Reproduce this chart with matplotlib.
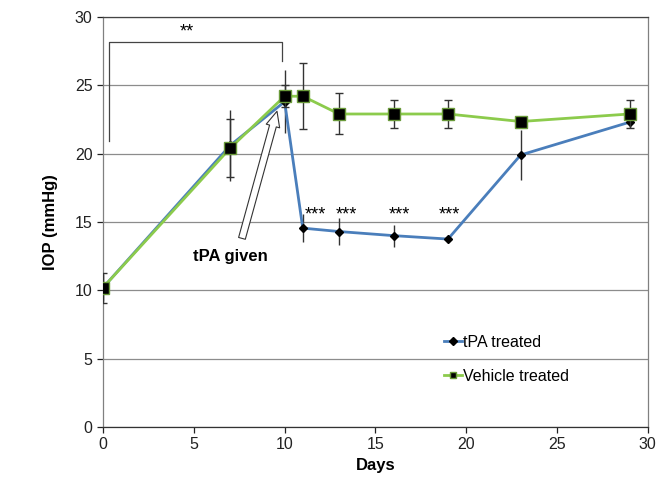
import matplotlib
matplotlib.use("Agg")
import matplotlib.pyplot as plt
from matplotlib.lines import Line2D

plt.rcParams['font.family'] = ['Liberation Sans', 'DejaVu Sans']

# data
days_tpa = [0, 7, 10, 11, 13, 16, 19, 23, 29]
iop_tpa = [10.2, 20.6, 23.8, 14.55, 14.3, 14.0, 13.75, 19.9, 22.3]
err_tpa = [1.0, 2.6, 2.3, 1.0, 1.0, 0.8, 0.1, 1.8, 0.4]

days_veh = [0, 7, 10, 11, 13, 16, 19, 23, 29]
iop_veh = [10.2, 20.4, 24.2, 24.2, 22.9, 22.9, 22.9, 22.35, 22.9]
err_veh = [1.1, 2.1, 0.8, 2.4, 1.5, 1.0, 1.0, 0.1, 1.0]

star_days = [11.7, 13.4, 16.3, 19.1]
star_y = 15.5

fig = plt.figure(figsize=(6.65, 4.79), dpi=100)
ax = fig.add_axes([0.155, 0.1086, 0.819, 0.856])

blue = "#4A7EBB"
green = "#8CCB4C"

ax.errorbar(days_tpa, iop_tpa, yerr=err_tpa, color=blue, lw=2, marker="D",
            ms=4.5, mfc="black", mec="black", ecolor="#333333", elinewidth=1,
            capsize=0, zorder=3)
ax.errorbar(days_veh, iop_veh, yerr=err_veh, color=green, lw=2, marker="s",
            ms=8, mfc="black", mec="#6a9a3a", ecolor="#333333", elinewidth=1,
            capsize=3, zorder=4)

for d in star_days:
    ax.text(d, star_y, "***", ha="center", va="center", fontsize=13)

# significance bracket
ax.plot([0.33, 0.33, 9.85, 9.85], [20.9, 28.2, 28.2, 26.8], color="#444444", lw=0.9)
ax.text(4.6, 28.9, "**", ha="center", va="center", fontsize=13)

ax.annotate("", xy=(9.58, 23.1), xytext=(7.65, 13.8),
            arrowprops=dict(arrowstyle="simple,head_length=1.1,head_width=1.0,tail_width=0.5",
                            mutation_scale=10, fc="white", ec="#333333", lw=0.8,
                            shrinkA=0, shrinkB=0))
ax.text(7.0, 12.5, "tPA given", ha="center", va="center", fontsize=12,
        fontweight="bold")

ax.set_xlim(0, 30)
ax.set_ylim(0, 30)
ax.set_xticks(range(0, 31, 5))
ax.set_yticks(range(0, 31, 5))
ax.yaxis.grid(True, color="#8c8c8c", lw=0.9)
ax.set_axisbelow(True)
ax.tick_params(labelsize=11.5, colors="#222222", length=4, width=0.9)
for s in ax.spines.values():
    s.set_color("#808080")
    s.set_linewidth(0.9)
ax.spines["bottom"].set_color("#333333")
ax.spines["top"].set_color("#444444")

ax.set_xlabel("Days", fontsize=12, fontweight="bold", labelpad=4)
ax.set_ylabel("IOP (mmHg)", fontsize=12, fontweight="bold", labelpad=12)

handles = [
    Line2D([], [], color=blue, lw=2, marker="D", ms=4, mfc="black", mec="black"),
    Line2D([], [], color=green, lw=2, marker="s", ms=5, mfc="black", mec="#6a9a3a"),
]
ax.legend(handles, ["tPA treated", "Vehicle treated"], loc="upper left",
          bbox_to_anchor=(0.60, 0.26), frameon=False, fontsize=11.5,
          handlelength=1.1, handletextpad=0.1, labelspacing=1.2)

fig.savefig("out.png", dpi=100)
